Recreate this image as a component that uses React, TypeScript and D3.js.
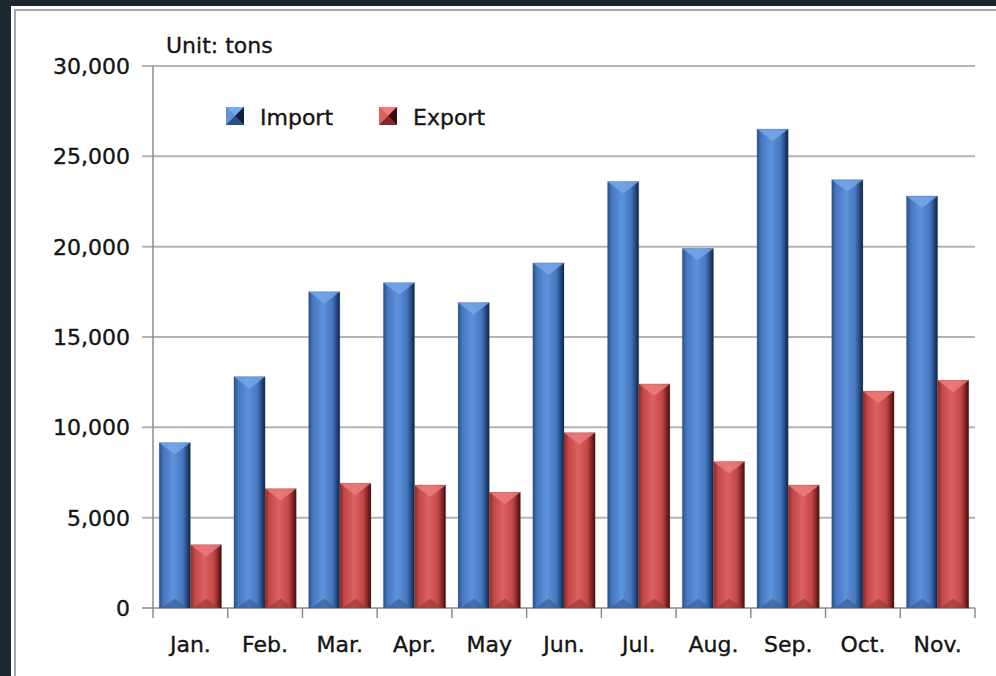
import React from "react";
import * as d3 from "d3";

const months = ["Jan.", "Feb.", "Mar.", "Apr.", "May", "Jun.", "Jul.", "Aug.", "Sep.", "Oct.", "Nov."];
const importTons = [9150, 12800, 17500, 18000, 16900, 19100, 23600, 19900, 26500, 23700, 22800];
const exportTons = [3500, 6600, 6900, 6800, 6400, 9700, 12400, 8100, 6800, 12000, 12600];
const seriesNames = ["Import", "Export"];
const yTicks = [0, 5000, 10000, 15000, 20000, 25000, 30000];

const W = 996;
const H = 676;
const plot = { left: 153, right: 975, top: 66, bottom: 608 };
const FONT = "'DejaVu Sans', Verdana, sans-serif";

const palettes = [
  { id: "imp", edgeL: "#27508a", mid: "#4677c0", light: "#5e92da", edgeR: "#0e2140", cap: "#78a8ea", base: "#355e98" },
  { id: "exp", edgeL: "#8a2828", mid: "#c44646", light: "#dc6262", edgeR: "#3c0c0c", cap: "#ec7e7e", base: "#9c3636" },
];

function Bar({ x, w, yTop, yBot, p }: any) {
  const h = yBot - yTop;
  const bev = Math.min(w * 0.38, h / 2);
  return (
    <g>
      <rect x={x} y={yTop} width={w} height={h} fill={`url(#grad-${p.id})`} />
      <polygon
        points={`${x},${yTop} ${x + w},${yTop} ${x + w / 2},${yTop + bev}`}
        fill={p.cap}
        opacity={0.8}
      />
      <polygon
        points={`${x + 3},${yBot} ${x + w - 3},${yBot} ${x + w / 2},${yBot - bev * 0.8}`}
        fill={p.base}
        opacity={0.65}
      />
      <rect x={x} y={yTop} width={w} height={h} fill="none" stroke="#5a5a5a" strokeOpacity={0.3} strokeWidth={1} />
    </g>
  );
}

function Swatch({ x, y, s, p }: any) {
  const cx = x + s / 2;
  const cy = y + s / 2;
  return (
    <g>
      <rect x={x} y={y} width={s} height={s} fill={p.mid} />
      <polygon points={`${x},${y} ${x + s},${y} ${cx},${cy}`} fill={p.cap} />
      <polygon points={`${x},${y} ${x},${y + s} ${cx},${cy}`} fill={p.light} />
      <polygon points={`${x + s},${y} ${x + s},${y + s} ${cx},${cy}`} fill={p.edgeR} />
      <polygon points={`${x},${y + s} ${x + s},${y + s} ${cx},${cy}`} fill={p.edgeL} />
    </g>
  );
}

export default function App() {
  const x = d3.scaleBand<string>().domain(months).range([plot.left, plot.right]).padding(0);
  const inner = d3
    .scaleBand<string>()
    .domain(seriesNames)
    .range([0, x.bandwidth()])
    .paddingInner(0)
    .paddingOuter(0.2);
  const y = d3.scaleLinear().domain([0, 30000]).range([plot.bottom, plot.top]);
  const fmt = d3.format(",");
  const series = [importTons, exportTons];
  const textProps = {
    fontFamily: FONT,
    fontSize: 22,
    fill: "#141414",
    stroke: "#141414",
    strokeWidth: 0.35,
  };

  return (
    <div style={{ position: "absolute", left: 0, top: 0 }}>
      <svg width={W} height={H} style={{ display: "block" }}>
        <defs>
          {palettes.map((p) => (
            <linearGradient key={p.id} id={`grad-${p.id}`} x1="0" x2="1" y1="0" y2="0">
              <stop offset="0%" stopColor={p.edgeL} />
              <stop offset="14%" stopColor={p.mid} />
              <stop offset="45%" stopColor={p.light} />
              <stop offset="75%" stopColor={p.mid} />
              <stop offset="88%" stopColor={p.edgeL} />
              <stop offset="100%" stopColor={p.edgeR} />
            </linearGradient>
          ))}
        </defs>

        <rect x={0} y={0} width={W} height={H} fill="#1e262d" />
        <rect x={11} y={6} width={W} height={H} fill="#ffffff" />
        <rect x={15} y={10} width={W} height={H} fill="#ffffff" stroke="#a6a6a6" strokeWidth={2} />

        {/* gridlines */}
        {yTicks.map((t) => (
          <line
            key={t}
            x1={plot.left - 11}
            x2={plot.right}
            y1={y(t)}
            y2={y(t)}
            stroke={t === 0 ? "#8c8c8c" : "#b4b4b4"}
            strokeWidth={t === 0 ? 1.5 : 2}
          />
        ))}

        {/* y axis */}
        <line x1={plot.left} x2={plot.left} y1={plot.top} y2={plot.bottom + 10} stroke="#8c8c8c" strokeWidth={1.5} />
        {yTicks.map((t) => (
          <text key={t} x={130} y={y(t)} dy="0.36em" textAnchor="end" {...textProps}>
            {fmt(t)}
          </text>
        ))}

        {/* category ticks */}
        {months.map((m) => (
          <line
            key={m}
            x1={(x(m) as number) + x.bandwidth()}
            x2={(x(m) as number) + x.bandwidth()}
            y1={plot.bottom}
            y2={plot.bottom + 10}
            stroke="#8c8c8c"
            strokeWidth={1.5}
          />
        ))}

        {/* bars */}
        {months.map((m, i) => (
          <g key={m}>
            {seriesNames.map((s, k) => (
              <Bar
                key={s}
                x={(x(m) as number) + (inner(s) as number)}
                w={inner.bandwidth()}
                yTop={y(series[k][i])}
                yBot={y(0)}
                p={palettes[k]}
              />
            ))}
          </g>
        ))}

        {/* category labels */}
        {months.map((m) => (
          <text key={m} x={(x(m) as number) + x.bandwidth() / 2} y={652} textAnchor="middle" {...textProps}>
            {m}
          </text>
        ))}

        {/* unit */}
        <text x={166} y={53} {...textProps}>
          Unit: tons
        </text>

        {/* legend */}
        {seriesNames.map((s, k) => {
          const lx = k === 0 ? 226 : 379;
          return (
            <g key={s}>
              <Swatch x={lx} y={107} s={18} p={palettes[k]} />
              <text x={lx + 34} y={125} {...textProps}>
                {s}
              </text>
            </g>
          );
        })}
      </svg>
    </div>
  );
}
